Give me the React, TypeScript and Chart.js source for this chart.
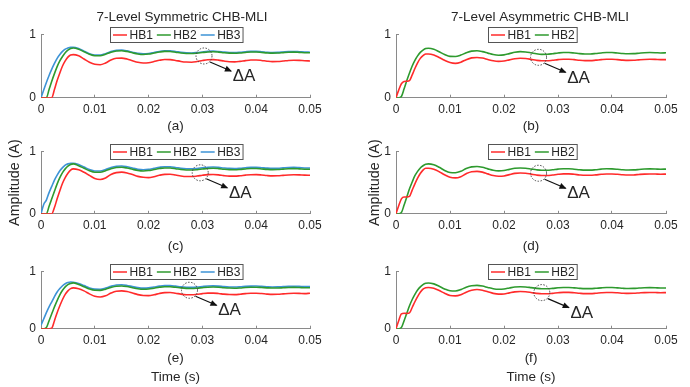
import React, { useEffect, useRef } from 'react';
import { Chart, registerables } from 'chart.js';

Chart.register(...registerables);

// ---------------- DATA ----------------
const TIME = [0, 0.0005, 0.001, 0.0015, 0.002, 0.0025, 0.003, 0.0035, 0.004, 0.0045, 0.005, 0.0055, 0.006,
  0.007, 0.008, 0.009, 0.01, 0.011, 0.012, 0.013, 0.014, 0.015, 0.016, 0.017, 0.018, 0.019, 0.02,
  0.021, 0.022, 0.023, 0.024, 0.025, 0.026, 0.027, 0.028, 0.029, 0.03, 0.031, 0.032, 0.033, 0.034,
  0.035, 0.036, 0.037, 0.038, 0.039, 0.04, 0.041, 0.042, 0.043, 0.044, 0.045, 0.046, 0.047, 0.048, 0.049, 0.05];

const X_TICK_LABELS = ['0', '0.01', '0.02', '0.03', '0.04', '0.05'];
const Y_TICK_LABELS = ['0', '1'];
const SERIES_LABELS = ['HB1', 'HB2', 'HB3'];

// (a) 7-level symmetric
const A_HB1 = [0, 0, 0, 0, 0, 0.13, 0.27, 0.39, 0.5, 0.58, 0.64, 0.675, 0.68,
  0.66, 0.61, 0.56, 0.527, 0.52, 0.548, 0.595, 0.622, 0.625, 0.61, 0.583, 0.558, 0.547, 0.552, 0.57, 0.59, 0.602, 0.6, 0.588, 0.572, 0.562, 0.56, 0.57, 0.586, 0.598, 0.6, 0.592, 0.578, 0.567, 0.565, 0.573, 0.585, 0.594, 0.595, 0.587, 0.576, 0.569, 0.57, 0.578, 0.587, 0.591, 0.589, 0.583, 0.58];
const A_HB2 = [0, 0, 0, 0.13, 0.26, 0.38, 0.49, 0.58, 0.65, 0.71, 0.75, 0.775, 0.785,
  0.765, 0.725, 0.685, 0.662, 0.662, 0.685, 0.717, 0.737, 0.74, 0.728, 0.708, 0.69, 0.682, 0.688, 0.704, 0.72, 0.73, 0.728, 0.718, 0.706, 0.698, 0.696, 0.702, 0.712, 0.721, 0.724, 0.719, 0.71, 0.703, 0.701, 0.706, 0.714, 0.72, 0.72, 0.714, 0.707, 0.703, 0.705, 0.711, 0.717, 0.719, 0.715, 0.71, 0.708];
const A_HB3 = [0, 0.12, 0.24, 0.35, 0.45, 0.54, 0.62, 0.68, 0.73, 0.765, 0.785, 0.795, 0.795,
  0.775, 0.735, 0.695, 0.672, 0.672, 0.695, 0.727, 0.747, 0.75, 0.738, 0.718, 0.7, 0.692, 0.698, 0.714, 0.73, 0.74, 0.738, 0.728, 0.716, 0.708, 0.706, 0.712, 0.722, 0.731, 0.734, 0.729, 0.72, 0.713, 0.711, 0.716, 0.724, 0.73, 0.73, 0.724, 0.717, 0.713, 0.715, 0.721, 0.727, 0.729, 0.725, 0.72, 0.718];

// (b) 7-level asymmetric
const B_HB1 = [0, 0.12, 0.22, 0.255, 0.26, 0.27, 0.36, 0.46, 0.55, 0.62, 0.665, 0.688, 0.69,
  0.675, 0.635, 0.59, 0.555, 0.542, 0.56, 0.6, 0.628, 0.635, 0.625, 0.603, 0.582, 0.573, 0.578, 0.597, 0.615, 0.622, 0.618, 0.605, 0.59, 0.582, 0.582, 0.59, 0.6, 0.607, 0.607, 0.6, 0.59, 0.585, 0.585, 0.592, 0.6, 0.606, 0.606, 0.6, 0.592, 0.588, 0.59, 0.597, 0.603, 0.606, 0.604, 0.6, 0.6];
const B_HB2 = [0, 0, 0.02, 0.14, 0.27, 0.39, 0.5, 0.59, 0.66, 0.715, 0.75, 0.775, 0.78,
  0.765, 0.725, 0.682, 0.652, 0.65, 0.672, 0.708, 0.735, 0.74, 0.727, 0.703, 0.68, 0.67, 0.675, 0.695, 0.716, 0.726, 0.722, 0.708, 0.692, 0.684, 0.685, 0.694, 0.705, 0.712, 0.712, 0.705, 0.695, 0.69, 0.69, 0.697, 0.706, 0.712, 0.712, 0.705, 0.697, 0.693, 0.695, 0.702, 0.709, 0.712, 0.71, 0.706, 0.708];

// (c)
const C_HB1 = [0, 0, 0, 0, 0, 0.1, 0.24, 0.37, 0.49, 0.58, 0.65, 0.7, 0.72,
  0.705, 0.665, 0.615, 0.565, 0.55, 0.575, 0.63, 0.66, 0.668, 0.655, 0.628, 0.6, 0.585, 0.58, 0.595, 0.618, 0.632, 0.633, 0.622, 0.607, 0.598, 0.597, 0.605, 0.618, 0.628, 0.63, 0.624, 0.612, 0.604, 0.603, 0.61, 0.62, 0.627, 0.628, 0.622, 0.613, 0.608, 0.609, 0.616, 0.623, 0.626, 0.624, 0.62, 0.618];
const C_HB2 = [0, 0, 0, 0.12, 0.24, 0.36, 0.48, 0.58, 0.66, 0.72, 0.765, 0.79, 0.8,
  0.77, 0.73, 0.69, 0.667, 0.667, 0.69, 0.722, 0.742, 0.745, 0.733, 0.713, 0.695, 0.687, 0.693, 0.709, 0.725, 0.735, 0.733, 0.723, 0.711, 0.703, 0.701, 0.707, 0.717, 0.726, 0.729, 0.724, 0.715, 0.708, 0.706, 0.711, 0.719, 0.725, 0.725, 0.719, 0.712, 0.708, 0.71, 0.716, 0.722, 0.724, 0.72, 0.715, 0.713];
const C_HB3 = [0, 0.15, 0.22, 0.34, 0.44, 0.54, 0.62, 0.69, 0.74, 0.78, 0.8, 0.81, 0.81,
  0.79, 0.75, 0.71, 0.687, 0.687, 0.71, 0.742, 0.762, 0.765, 0.753, 0.733, 0.715, 0.707, 0.713, 0.729, 0.745, 0.755, 0.753, 0.743, 0.731, 0.723, 0.721, 0.727, 0.737, 0.746, 0.749, 0.744, 0.735, 0.728, 0.726, 0.731, 0.739, 0.745, 0.745, 0.739, 0.732, 0.728, 0.73, 0.736, 0.742, 0.744, 0.74, 0.735, 0.733];

// (d)
const D_HB1 = [0, 0.13, 0.24, 0.27, 0.27, 0.28, 0.38, 0.48, 0.57, 0.645, 0.7, 0.73, 0.73,
  0.715, 0.675, 0.625, 0.585, 0.575, 0.595, 0.643, 0.675, 0.68, 0.668, 0.64, 0.613, 0.602, 0.607, 0.628, 0.648, 0.655, 0.65, 0.636, 0.621, 0.613, 0.613, 0.622, 0.633, 0.64, 0.64, 0.633, 0.623, 0.617, 0.617, 0.624, 0.633, 0.639, 0.639, 0.633, 0.625, 0.621, 0.623, 0.63, 0.636, 0.639, 0.637, 0.634, 0.636];
const D_HB2 = [0, 0, 0.02, 0.14, 0.27, 0.4, 0.51, 0.61, 0.68, 0.735, 0.77, 0.795, 0.8,
  0.785, 0.745, 0.695, 0.662, 0.658, 0.68, 0.725, 0.752, 0.757, 0.745, 0.72, 0.697, 0.688, 0.693, 0.712, 0.73, 0.735, 0.73, 0.718, 0.705, 0.698, 0.698, 0.706, 0.716, 0.722, 0.722, 0.715, 0.706, 0.7, 0.7, 0.707, 0.716, 0.721, 0.72, 0.714, 0.706, 0.702, 0.704, 0.71, 0.717, 0.72, 0.718, 0.714, 0.716];

// (e)
const E_HB1 = [0, 0, 0, 0, 0.01, 0.14, 0.28, 0.4, 0.51, 0.6, 0.66, 0.7, 0.712,
  0.698, 0.66, 0.608, 0.565, 0.552, 0.573, 0.622, 0.655, 0.66, 0.648, 0.622, 0.595, 0.58, 0.578, 0.592, 0.615, 0.63, 0.632, 0.62, 0.603, 0.593, 0.592, 0.6, 0.612, 0.62, 0.621, 0.614, 0.603, 0.596, 0.595, 0.602, 0.612, 0.619, 0.619, 0.613, 0.604, 0.599, 0.6, 0.607, 0.615, 0.619, 0.617, 0.613, 0.618];
const E_HB2 = [0, 0, 0.02, 0.14, 0.26, 0.38, 0.49, 0.59, 0.67, 0.73, 0.77, 0.79, 0.8,
  0.772, 0.732, 0.692, 0.67, 0.669, 0.69, 0.72, 0.742, 0.746, 0.735, 0.715, 0.697, 0.688, 0.692, 0.707, 0.723, 0.733, 0.732, 0.723, 0.712, 0.704, 0.702, 0.707, 0.716, 0.724, 0.727, 0.723, 0.715, 0.709, 0.707, 0.711, 0.718, 0.723, 0.724, 0.719, 0.713, 0.709, 0.71, 0.715, 0.72, 0.722, 0.719, 0.715, 0.714];
const E_HB3 = [0.06, 0.17, 0.28, 0.38, 0.47, 0.56, 0.64, 0.7, 0.75, 0.785, 0.805, 0.815, 0.812,
  0.79, 0.752, 0.712, 0.69, 0.689, 0.71, 0.74, 0.762, 0.766, 0.755, 0.735, 0.717, 0.708, 0.712, 0.727, 0.743, 0.753, 0.752, 0.743, 0.732, 0.724, 0.722, 0.727, 0.736, 0.744, 0.747, 0.743, 0.735, 0.729, 0.727, 0.731, 0.738, 0.743, 0.744, 0.739, 0.733, 0.729, 0.73, 0.735, 0.74, 0.742, 0.739, 0.735, 0.735];

// (f)
const F_HB1 = [0, 0.14, 0.26, 0.27, 0.265, 0.275, 0.37, 0.47, 0.56, 0.635, 0.69, 0.715, 0.72,
  0.705, 0.665, 0.618, 0.58, 0.572, 0.592, 0.638, 0.67, 0.684, 0.672, 0.645, 0.617, 0.603, 0.606, 0.625, 0.643, 0.65, 0.645, 0.632, 0.617, 0.609, 0.609, 0.617, 0.627, 0.634, 0.634, 0.627, 0.618, 0.612, 0.612, 0.618, 0.627, 0.632, 0.632, 0.627, 0.62, 0.616, 0.618, 0.624, 0.63, 0.633, 0.631, 0.628, 0.63];
const F_HB2 = [0, 0, 0.02, 0.14, 0.27, 0.4, 0.51, 0.6, 0.675, 0.73, 0.77, 0.792, 0.798,
  0.782, 0.742, 0.694, 0.662, 0.659, 0.682, 0.724, 0.75, 0.756, 0.744, 0.72, 0.698, 0.689, 0.694, 0.711, 0.728, 0.733, 0.729, 0.717, 0.704, 0.697, 0.697, 0.704, 0.714, 0.72, 0.72, 0.713, 0.704, 0.699, 0.699, 0.705, 0.713, 0.718, 0.718, 0.712, 0.705, 0.701, 0.703, 0.709, 0.715, 0.717, 0.715, 0.711, 0.711];

// ΔA marker locations (time, amplitude)
const DELTA_A = [
  { t: 0.0303, v: 0.658 },
  { t: 0.0264, v: 0.637 },
  { t: 0.0296, v: 0.657 },
  { t: 0.0264, v: 0.65 },
  { t: 0.0276, v: 0.671 },
  { t: 0.027, v: 0.63 },
];

// ---------------- STYLE / LAYOUT ----------------
const FONT = "'Liberation Sans', Arial, sans-serif";
const TEXT = '#262626';
const AXIS = '#8a8a8a';
const COLORS = ['#ff2b2b', '#2e9a2e', '#3d93d6'];

const COLS = [
  { left: 0, width: 364, yW: 41, padR: 54, yTitlePad: 6.6 },
  { left: 365, width: 350, yW: 31, padR: 49, yTitlePad: 1.6 },
];
const ROWS = [
  { top: 0, height: 136, padT: 0, xH: 38.3 },
  { top: 136, height: 120, padT: 14.7, xH: 42.2 },
  { top: 256, height: 131, padT: 10, xH: 58.3 },
];

type PanelDef = {
  row: number; col: number; title?: string; sub: string | string[]; yTitle?: string;
  series: number[][]; delta: { t: number; v: number };
};

const PANELS: PanelDef[] = [
  { row: 0, col: 0, title: '7-Level Symmetric CHB-MLI', sub: '(a)', series: [A_HB1, A_HB2, A_HB3], delta: DELTA_A[0] },
  { row: 0, col: 1, title: '7-Level Asymmetric CHB-MLI', sub: '(b)', series: [B_HB1, B_HB2], delta: DELTA_A[1] },
  { row: 1, col: 0, sub: '(c)', yTitle: 'Amplitude (A)', series: [C_HB1, C_HB2, C_HB3], delta: DELTA_A[2] },
  { row: 1, col: 1, sub: '(d)', yTitle: 'Amplitude (A)', series: [D_HB1, D_HB2], delta: DELTA_A[3] },
  { row: 2, col: 0, sub: ['(e)', 'Time (s)'], series: [E_HB1, E_HB2, E_HB3], delta: DELTA_A[4] },
  { row: 2, col: 1, sub: ['(f)', 'Time (s)'], series: [F_HB1, F_HB2], delta: DELTA_A[5] },
];

const legendPlugin = {
  id: 'boxLegend',
  afterDatasetsDraw(chart: any) {
    const { ctx, chartArea } = chart;
    const ds = chart.data.datasets;
    ctx.save();
    ctx.font = `12px ${FONT}`;
    const lineLen = 14, gap = 2.5, pad = 2.5, spacing = 4, h = 15;
    const widths = ds.map((d: any) => ctx.measureText(d.label).width);
    const total = 2 * pad + widths.reduce((a: number, w: number) => a + lineLen + gap + w, 0) + spacing * (ds.length - 1);
    const cx = (chartArea.left + chartArea.right) / 2 + 1;
    const x0 = Math.round(cx - total / 2) + 0.5;
    const y0 = Math.round(chartArea.top - 7.5) + 0.5;
    ctx.fillStyle = '#ffffff';
    ctx.fillRect(x0, y0, total, h);
    ctx.strokeStyle = '#555555';
    ctx.lineWidth = 1;
    ctx.strokeRect(x0, y0, total, h);
    let x = x0 + pad;
    const ym = y0 + h / 2;
    ds.forEach((d: any, i: number) => {
      ctx.strokeStyle = d.borderColor;
      ctx.lineWidth = 1.5;
      ctx.beginPath();
      ctx.moveTo(x, ym);
      ctx.lineTo(x + lineLen, ym);
      ctx.stroke();
      ctx.fillStyle = TEXT;
      ctx.textAlign = 'left';
      ctx.textBaseline = 'middle';
      ctx.fillText(d.label, x + lineLen + gap, ym + 0.5);
      x += lineLen + gap + widths[i] + spacing;
    });
    ctx.restore();
  },
};

function makeDeltaPlugin(delta: { t: number; v: number }) {
  return {
    id: 'deltaA',
    afterDatasetsDraw(chart: any) {
      const { ctx } = chart;
      const cx = chart.scales.x.getPixelForValue(delta.t);
      const cy = chart.scales.y.getPixelForValue(delta.v);
      ctx.save();
      ctx.strokeStyle = '#444444';
      ctx.lineWidth = 1;
      ctx.setLineDash([1.5, 1.5]);
      ctx.beginPath();
      ctx.arc(cx, cy, 8, 0, Math.PI * 2);
      ctx.stroke();
      ctx.setLineDash([]);
      const x1 = cx + 6, y1 = cy + 6, x2 = cx + 27, y2 = cy + 15;
      ctx.strokeStyle = '#111111';
      ctx.lineWidth = 1.2;
      ctx.beginPath();
      ctx.moveTo(x1, y1);
      ctx.lineTo(x2, y2);
      ctx.stroke();
      const ang = Math.atan2(y2 - y1, x2 - x1);
      const hl = 6, hw = 3;
      ctx.fillStyle = '#111111';
      ctx.beginPath();
      ctx.moveTo(x2 + 1, y2 + 0.4);
      ctx.lineTo(x2 - hl * Math.cos(ang) + hw * Math.sin(ang), y2 - hl * Math.sin(ang) - hw * Math.cos(ang));
      ctx.lineTo(x2 - hl * Math.cos(ang) - hw * Math.sin(ang), y2 - hl * Math.sin(ang) + hw * Math.cos(ang));
      ctx.closePath();
      ctx.fill();
      ctx.fillStyle = TEXT;
      ctx.font = `17px ${FONT}`;
      ctx.textAlign = 'center';
      ctx.textBaseline = 'middle';
      ctx.fillText('\u0394A', cx + 40, cy + 20.5);
      ctx.restore();
    },
  };
}

function Panel({ p }: { p: PanelDef }) {
  const ref = useRef<HTMLCanvasElement | null>(null);
  const col = COLS[p.col];
  const row = ROWS[p.row];
  useEffect(() => {
    if (!ref.current) return;
    const datasets = p.series.map((vals, i) => ({
      label: SERIES_LABELS[i],
      data: TIME.map((t, k) => ({ x: t, y: vals[k] })),
      borderColor: COLORS[i],
      backgroundColor: COLORS[i],
      borderWidth: 1.6,
      pointRadius: 0,
      cubicInterpolationMode: 'monotone' as const,
      fill: false,
    }));
    const chart = new Chart(ref.current, {
      type: 'line',
      data: { datasets },
      options: {
        responsive: false,
        animation: false,
        devicePixelRatio: 1,
        layout: { padding: { left: 0, right: 0, top: row.padT, bottom: 0 } },
        plugins: {
          legend: { display: false },
          tooltip: { enabled: false },
          title: {
            display: !!p.title,
            text: p.title || '',
            color: TEXT,
            font: { family: FONT, size: 13.5, weight: 'normal' as any, lineHeight: 1.2 },
            padding: { top: 8.9, bottom: 9.2 },
          },
        },
        scales: {
          x: {
            type: 'linear',
            min: 0,
            max: 0.05,
            afterFit: (s: any) => { s.height = row.xH; s.paddingRight = col.padR; s.paddingLeft = 0; },
            ticks: {
              stepSize: 0.01,
              autoSkip: false,
              maxRotation: 0,
              padding: 8.1,
              color: TEXT,
              font: { family: FONT, size: 12 },
              callback: (_v: any, i: number) => X_TICK_LABELS[i],
            },
            grid: { display: true, drawOnChartArea: false, drawTicks: true, tickLength: -3, color: AXIS },
            border: { display: true, color: AXIS, width: 1 },
            title: {
              display: true,
              text: p.sub,
              color: TEXT,
              font: { family: FONT, size: 13.5, lineHeight: 1.4 },
              padding: { top: 0, bottom: 0 },
            },
          },
          y: {
            type: 'linear',
            min: 0,
            max: 1,
            afterFit: (s: any) => { s.width = col.yW; },
            ticks: {
              stepSize: 1,
              padding: 8.2,
              color: TEXT,
              font: { family: FONT, size: 12 },
              callback: (_v: any, i: number) => Y_TICK_LABELS[i],
            },
            grid: { display: true, drawOnChartArea: false, drawTicks: true, tickLength: -3, color: AXIS },
            border: { display: true, color: AXIS, width: 1 },
            title: {
              display: !!p.yTitle,
              text: p.yTitle || '',
              color: TEXT,
              font: { family: FONT, size: 14.3, lineHeight: 1.2 },
              padding: { top: col.yTitlePad, bottom: 0 },
            },
          },
        },
      },
      plugins: [legendPlugin, makeDeltaPlugin(p.delta)],
    } as any);
    return () => chart.destroy();
  }, []);
  return (
    <canvas
      ref={ref}
      width={col.width}
      height={row.height}
      style={{ position: 'absolute', left: col.left, top: row.top, width: col.width, height: row.height }}
    />
  );
}

export default function App() {
  return (
    <div style={{ position: 'absolute', left: 0, top: 0, width: 690, height: 387, overflow: 'hidden', background: '#ffffff' }}>
      {PANELS.map((p, i) => <Panel key={i} p={p} />)}
    </div>
  );
}
